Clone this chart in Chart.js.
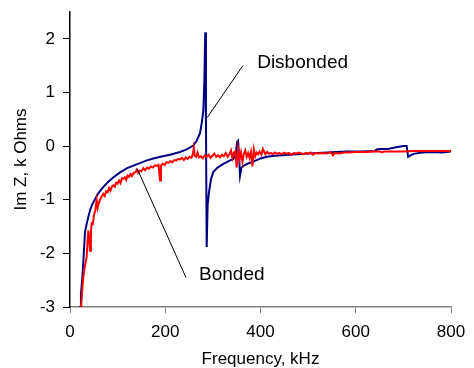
<!DOCTYPE html>
<html>
<head>
<meta charset="utf-8">
<script src="https://cdn.jsdelivr.net/npm/chart.js@4.4.1/dist/chart.umd.min.js"></script>
<style>
  html, body { margin: 0; padding: 0; background: #fff; }
  #wrap { width: 474px; height: 368px; }
</style>
</head>
<body>
<div id="wrap"><canvas id="ImChart"></canvas></div>
<script>
// Disbonded (blue) - frequency kHz / Im Z kOhm
let disbondFreq = [20, 21, 23, 26, 29, 31.5, 35, 38.5, 42, 46, 52, 60, 70, 80, 90, 105, 120, 140, 160, 175, 190, 210, 231, 245, 259, 266, 273, 277, 280, 282, 284, 285.5, 287, 289, 292, 296, 301, 310, 322, 335, 343, 348, 351, 353, 355, 357, 360, 366, 375, 385, 400, 413, 430, 460, 500, 540, 580, 610, 640, 645, 670, 685, 700, 707, 710, 718, 724, 740, 760, 780, 800];
let disbondIm = [-3.3, -3.0, -2.75, -2.44, -2.0, -1.6, -1.45, -1.32, -1.2, -1.1, -1.0, -0.87, -0.76, -0.67, -0.59, -0.49, -0.41, -0.34, -0.27, -0.23, -0.2, -0.16, -0.11, -0.06, 0.01, 0.1, 0.24, 0.45, 0.66, 1.2, 2.12, 0.4, -1.88, -1.1, -0.85, -0.62, -0.48, -0.4, -0.33, -0.27, -0.24, -0.15, 0.08, 0.1, -0.2, -0.55, -0.4, -0.36, -0.32, -0.29, -0.23, -0.2, -0.18, -0.16, -0.14, -0.12, -0.1, -0.1, -0.09, -0.06, -0.05, -0.02, 0.0, 0.0, -0.2, -0.16, -0.14, -0.12, -0.11, -0.12, -0.1];

// Bonded (red)
let bondFreq = [22, 24, 26, 28, 31, 35, 37, 38.5, 40, 42, 44, 45.5, 48, 50, 53, 56, 58, 60, 63, 66, 70, 73, 76, 79, 82, 85, 88, 91, 94, 97, 100, 103, 106, 109, 112, 115, 118, 121, 124, 127, 130, 134, 137, 140, 143, 146, 150, 154, 158, 162, 166, 170, 174, 178, 182, 186, 189, 191, 195, 199, 203, 207, 211, 215, 219, 223, 227, 231, 235, 239, 243, 247, 251, 255, 258, 260, 262, 265, 268, 271, 275, 279, 283, 287, 291, 295, 299, 303, 307, 311, 315, 319, 323, 327, 331, 335, 338, 341, 344, 347, 350, 353, 356, 359, 362, 365, 368, 371, 374, 377, 380, 383, 386, 389, 392, 395, 398, 402, 405, 410, 414, 418, 422, 426, 430, 435, 440, 445, 450, 455, 460, 465, 470, 475, 480, 490, 495, 500, 505, 510, 515, 520, 530, 540, 548, 552, 556, 565, 575, 585, 600, 620, 640, 650, 655, 660, 680, 700, 720, 760, 800];
let bondIm = [-3.3, -2.9, -2.65, -2.44, -2.25, -2.07, -1.75, -1.57, -1.7, -1.95, -1.6, -1.44, -1.45, -1.3, -1.2, -1.01, -1.15, -1.08, -1.0, -0.95, -0.89, -0.93, -0.84, -0.86, -0.78, -0.83, -0.75, -0.73, -0.76, -0.68, -0.7, -0.64, -0.69, -0.6, -0.61, -0.58, -0.63, -0.55, -0.57, -0.52, -0.56, -0.5, -0.49, -0.44, -0.5, -0.46, -0.47, -0.41, -0.45, -0.4, -0.42, -0.38, -0.4, -0.36, -0.37, -0.35, -0.64, -0.36, -0.33, -0.35, -0.3, -0.31, -0.28, -0.3, -0.26, -0.27, -0.24, -0.25, -0.22, -0.26, -0.21, -0.24, -0.2, -0.22, -0.15, -0.03, -0.18, -0.2, -0.12, -0.21, -0.19, -0.23, -0.17, -0.2, -0.16, -0.22, -0.18, -0.14, -0.2, -0.17, -0.21, -0.16, -0.19, -0.13, -0.2, -0.15, -0.08, -0.22, -0.12, -0.1, -0.4, -0.05, -0.25, -0.12, -0.3, -0.15, -0.08, -0.2, -0.13, -0.22, -0.11, -0.38, -0.06, -0.19, -0.12, -0.15, -0.1, -0.16, -0.05, -0.15, -0.11, -0.14, -0.13, -0.15, -0.12, -0.14, -0.13, -0.15, -0.12, -0.14, -0.13, -0.16, -0.13, -0.14, -0.12, -0.15, -0.13, -0.14, -0.12, -0.16, -0.13, -0.14, -0.13, -0.14, -0.11, -0.17, -0.13, -0.14, -0.12, -0.12, -0.11, -0.11, -0.1, -0.1, -0.12, -0.1, -0.1, -0.1, -0.09, -0.09, -0.09];

let yTicks = [-3, -2, -1, 0, 1, 2];
let xTicks = [0, 200, 400, 600, 800];

// callout labels: text, text anchor, leader line start/end (data units)
let callouts = [
    { text: 'Disbonded', at: [393, 1.56], from: [363, 1.50], to: [288, 0.53] },
    { text: 'Bonded', at: [271, -2.39], from: [243.5, -2.45], to: [141, -0.42] }
];

function toPoints(xs, ys) {
    return xs.map((x, i) => ({ x: x, y: ys[i] }));
}

const calloutPlugin = {
    id: 'callouts',
    afterDatasetsDraw(chart) {
        const ctx = chart.ctx;
        const xs = chart.scales.x, ys = chart.scales.y;
        ctx.save();
        ctx.strokeStyle = '#000';
        ctx.lineWidth = 1;
        ctx.fillStyle = '#000';
        ctx.font = '19px "Liberation Sans", Arial, sans-serif';
        ctx.textBaseline = 'middle';
        ctx.textAlign = 'left';
        callouts.forEach(c => {
            ctx.beginPath();
            ctx.moveTo(xs.getPixelForValue(c.from[0]), ys.getPixelForValue(c.from[1]));
            ctx.lineTo(xs.getPixelForValue(c.to[0]), ys.getPixelForValue(c.to[1]));
            ctx.stroke();
            ctx.fillText(c.text, xs.getPixelForValue(c.at[0]), ys.getPixelForValue(c.at[1]));
        });
        ctx.restore();
    }
};

const tickFont = { family: '"Liberation Sans", Arial, sans-serif', size: 17 };

new Chart(document.getElementById('ImChart').getContext('2d'), {
    type: 'scatter',
    data: {
        datasets: [{
            label: 'Bonded',
            data: toPoints(bondFreq, bondIm),
            showLine: true,
            borderColor: '#FF0000',
            borderWidth: 2,
            pointRadius: 0,
            tension: 0
        }, {
            label: 'Disbonded',
            data: toPoints(disbondFreq, disbondIm),
            showLine: true,
            borderColor: '#000080',
            borderWidth: 2,
            pointRadius: 0,
            tension: 0
        }]
    },
    options: {
        responsive: true,
        maintainAspectRatio: false,
        animation: false,
        layout: { padding: { top: 12, right: 23, left: 0, bottom: 0 } },
        plugins: {
            legend: { display: false },
            tooltip: { enabled: false }
        },
        scales: {
            x: {
                type: 'linear',
                min: 0,
                max: 800,
                afterBuildTicks: s => { s.ticks = xTicks.map(v => ({ value: v })); },
                afterFit: s => { s.height = 61; s.paddingLeft = 0; s.paddingRight = 0; },
                ticks: { font: tickFont, color: '#000', padding: 9, maxRotation: 0 },
                grid: { drawOnChartArea: false, drawTicks: true, tickLength: 6, color: '#808080' },
                border: { display: true, color: '#808080', width: 1.5 },
                title: {
                    display: true,
                    text: 'Frequency, kHz',
                    color: '#000',
                    font: { family: '"Liberation Sans", Arial, sans-serif', size: 17, lineHeight: 1 },
                    padding: { top: 0, bottom: 0 }
                }
            },
            y: {
                type: 'linear',
                min: -3,
                max: 2.5,
                afterBuildTicks: s => { s.ticks = yTicks.map(v => ({ value: v })); },
                afterFit: s => { s.width = 70; s.paddingTop = 0; s.paddingBottom = 0; },
                ticks: { font: tickFont, color: '#000', padding: 8 },
                grid: { drawOnChartArea: false, drawTicks: true, tickLength: 7, color: '#000' },
                border: { display: true, color: '#000', width: 1.5 },
                title: {
                    display: true,
                    text: 'Im Z, k Ohms',
                    color: '#000',
                    font: { family: '"Liberation Sans", Arial, sans-serif', size: 17, lineHeight: 1 },
                    padding: { top: 13, bottom: 0 }
                }
            }
        }
    },
    plugins: [calloutPlugin]
});
</script>
</body>
</html>
